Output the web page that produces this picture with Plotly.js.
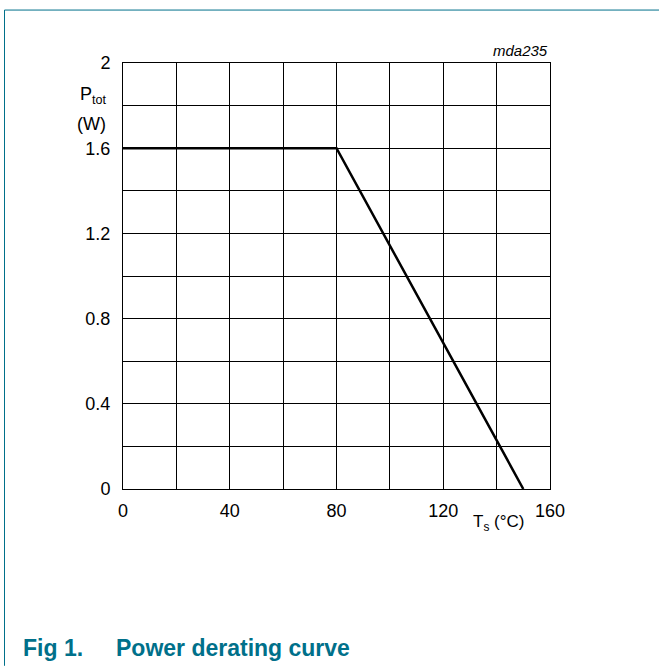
<!DOCTYPE html>
<html>
<head>
<meta charset="utf-8">
<script src="https://cdn.plot.ly/plotly-3.0.1.min.js"></script>
<style>
html,body{margin:0;padding:0;background:#fff;}
#chart{width:659px;height:666px;}
</style>
</head>
<body>
<div id="chart"></div>
<script>
// Data
var temperature = [0, 80, 150];        // Ts (°C)
var power = [1.6, 1.6, 0];             // Ptot (W)
var xTickVals = [0, 40, 80, 120, 160];
var yTickVals = [0, 0.4, 0.8, 1.2, 1.6, 2];
var yTickText = ['0', '0.4', '0.8', '1.2', '1.6', '2'];

var L = 123, R = 550, T = 62.5, B = 489;
var W = 659, H = 666;
function px(x){ return (x - L) / (R - L); }
function py(y){ return (B - y) / (B - T); }

var teal = '#00708a';
var font = 'Liberation Sans, Arial, sans-serif';

var trace = {
  x: temperature, y: power, type: 'scatter', mode: 'lines',
  line: {color: '#000', width: 2.5}, hoverinfo: 'skip'
};

var layout = {
  width: W, height: H,
  margin: {l: L, r: W - R, t: T, b: H - B, pad: 0},
  paper_bgcolor: '#fff', plot_bgcolor: '#fff',
  showlegend: false,
  font: {family: font, size: 18, color: '#000'},
  xaxis: {
    range: [0, 160], tickvals: xTickVals, ticks: '', ticklabelstandoff: 5,
    showgrid: true, gridcolor: '#000', gridwidth: 1,
    minor: {dtick: 20, tick0: 0, showgrid: true, gridcolor: '#000', gridwidth: 1},
    showline: true, linecolor: '#000', linewidth: 1, mirror: true,
    zeroline: false, fixedrange: true,
    tickfont: {family: font, size: 18, color: '#000'}
  },
  yaxis: {
    range: [0, 2], tickvals: yTickVals, ticktext: yTickText, ticks: '', ticklabelstandoff: 8,
    showgrid: true, gridcolor: '#000', gridwidth: 1,
    minor: {dtick: 0.2, tick0: 0, showgrid: true, gridcolor: '#000', gridwidth: 1},
    showline: true, linecolor: '#000', linewidth: 1, mirror: true,
    zeroline: false, fixedrange: true,
    tickfont: {family: font, size: 18, color: '#000'}
  },
  annotations: [
    {xref: 'paper', yref: 'paper', x: px(109), y: py(95), xanchor: 'right', yanchor: 'middle',
     text: 'P<sub>tot</sub>', showarrow: false, font: {family: font, size: 18, color: '#000'}},
    {xref: 'paper', yref: 'paper', x: px(108), y: py(124), xanchor: 'right', yanchor: 'middle',
     text: '(W)', showarrow: false, font: {family: font, size: 18, color: '#000'}},
    {xref: 'paper', yref: 'paper', x: px(498), y: py(523), xanchor: 'center', yanchor: 'middle',
     text: 'T<sub>s</sub> (°C)', showarrow: false, font: {family: font, size: 17, color: '#000'}},
    {xref: 'paper', yref: 'paper', x: px(550), y: py(50), xanchor: 'right', yanchor: 'middle',
     text: '<i>mda235</i>', showarrow: false, font: {family: font, size: 15, color: '#000'}},
    {xref: 'paper', yref: 'paper', x: px(21), y: py(648), xanchor: 'left', yanchor: 'middle',
     text: '<b>Fig 1.</b>', showarrow: false,
     font: {family: font, size: 23, color: teal}},
    {xref: 'paper', yref: 'paper', x: px(114), y: py(648), xanchor: 'left', yanchor: 'middle',
     text: '<b>Power derating curve</b>', showarrow: false,
     font: {family: font, size: 23, color: teal}}
  ],
  shapes: [
    {type: 'line', xref: 'paper', yref: 'paper', x0: px(4.5), x1: px(659), y0: py(9.5), y1: py(9.5),
     line: {color: teal, width: 1}},
    {type: 'line', xref: 'paper', yref: 'paper', x0: px(4.5), x1: px(4.5), y0: py(9.5), y1: py(666),
     line: {color: teal, width: 1}}
  ]
};

Plotly.newPlot('chart', [trace], layout, {staticPlot: true, displayModeBar: false});
</script>
</body>
</html>
